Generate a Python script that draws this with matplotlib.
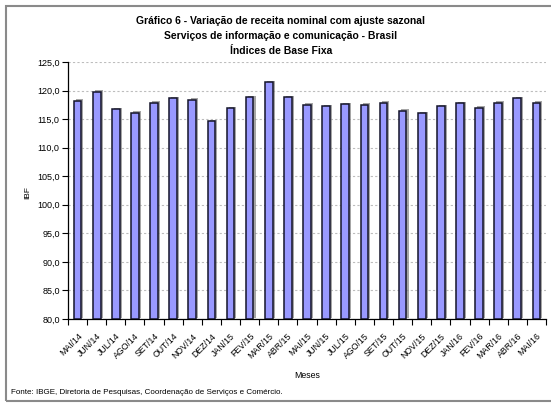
import matplotlib
matplotlib.use("Agg")
import matplotlib.pyplot as plt
import matplotlib.patheffects as pe
from matplotlib.ticker import FuncFormatter, MultipleLocator
from matplotlib.patches import Rectangle
import numpy as np

plt.rcParams['font.family'] = ['Liberation Sans', 'DejaVu Sans']

meses = ["MAI/14", "JUN/14", "JUL/14", "AGO/14", "SET/14", "OUT/14", "NOV/14", "DEZ/14",
         "JAN/15", "FEV/15", "MAR/15", "ABR/15", "MAI/15", "JUN/15", "JUL/15", "AGO/15",
         "SET/15", "OUT/15", "NOV/15", "DEZ/15", "JAN/16", "FEV/16", "MAR/16", "ABR/16", "MAI/16"]
ibf = [118.2, 119.8, 116.7, 116.1, 117.9, 118.7, 118.4, 114.65,
       116.9, 118.8, 121.5, 118.8, 117.5, 117.3, 117.6, 117.5,
       117.9, 116.5, 116.0, 117.3, 117.8, 117.0, 117.9, 118.7, 117.9]

W, H = 551, 403
fig = plt.figure(figsize=(W / 100, H / 100), dpi=100)
fig.patch.set_facecolor("white")

# outer frame
fig.add_artist(Rectangle((5.5 / W, 1 - 401 / H), (W + 5) / W, (401 - 5.5) / H,
                         transform=fig.transFigure, fill=False,
                         edgecolor="#8a8a8a", linewidth=1.5))

ax = fig.add_axes([68 / W, 1 - 319 / H, (546 - 68) / W, (319 - 62) / H])
x = np.arange(len(meses))
bars = ax.bar(x, [v - 80 for v in ibf], bottom=80, width=0.4,
              color="#9999FF", edgecolor="#14142a", linewidth=1.1, zorder=3)
for b in bars:
    b.set_path_effects([pe.SimplePatchShadow(offset=(1.5, 1), shadow_rgbFace="#808080", alpha=0.7),
                        pe.Normal()])

ax.set_xlim(-0.5, len(meses) - 0.5)
ax.set_ylim(80, 125)
ax.yaxis.set_major_locator(MultipleLocator(5))
ax.yaxis.set_major_formatter(FuncFormatter(lambda v, p: f"{v:.1f}".replace(".", ",")))
ax.grid(axis="y", color="#bdbdbd", linestyle=(0, (2, 2)), linewidth=0.8, zorder=0)

ax.set_xticks(x)
ax.set_xticklabels(meses, rotation=45, ha="right", va="top", rotation_mode="anchor", fontsize=6.3)
ax.set_xticks(np.arange(-0.5, len(meses)), minor=True)
ax.tick_params(axis="x", which="major", length=0, pad=9)
ax.tick_params(axis="x", which="minor", length=4, direction="out", width=0.8)
ax.tick_params(axis="y", length=4, direction="out", width=0.8, labelsize=6.5, pad=2)

for s in ["top", "right"]:
    ax.spines[s].set_visible(False)
ax.spines["left"].set_linewidth(0.9)
ax.spines["bottom"].set_linewidth(0.9)

fig.text(28 / W, 1 - 193 / H, "IBF", rotation=90, ha="center", va="center", fontsize=6)
fig.text(307 / W, 1 - 375 / H, "Meses", ha="center", va="center", fontsize=6.3)
fig.text(11 / W, 1 - 392 / H, "Fonte: IBGE, Diretoria de Pesquisas, Coordenação de Serviços e Comércio.",
         ha="left", va="center", fontsize=5.8)

titles = ["Gráfico 6 - Variação de receita nominal com ajuste sazonal",
          "Serviços de informação e comunicação - Brasil",
          "Índices de Base Fixa"]
for i, t in enumerate(titles):
    fig.text(281 / W, 1 - (21 + 15 * i) / H, t, ha="center", va="center",
             fontsize=7.5, fontweight="bold")

fig.savefig("out.png", dpi=100)
